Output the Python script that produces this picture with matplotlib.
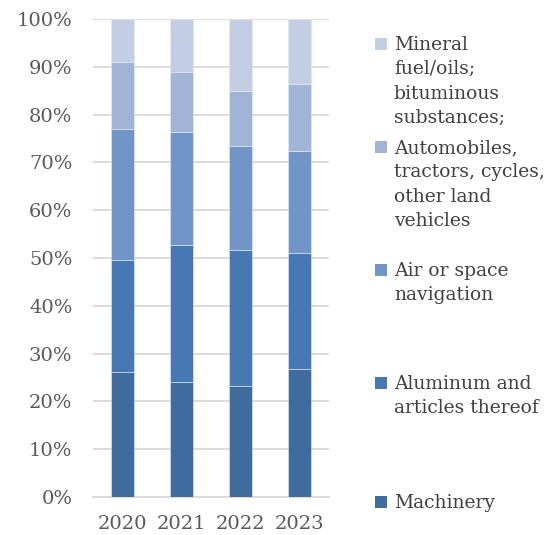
import numpy as np
import matplotlib
matplotlib.use("Agg")
import matplotlib.pyplot as plt
from matplotlib.patches import Rectangle

# -----------------------------
# Data (share of total, %)
# -----------------------------
years = ["2020", "2021", "2022", "2023"]

machinery = [26.2, 24.1, 23.2, 26.8]
aluminum = [23.4, 28.6, 28.5, 24.3]
air_space = [27.3, 23.7, 21.7, 21.3]
automobiles = [14.2, 12.6, 11.5, 13.9]
mineral_fuel = [8.9, 11.0, 15.1, 13.7]

series_names = [
    "Machinery",
    "Aluminum and\narticles thereof",
    "Air or space\nnavigation",
    "Automobiles,\ntractors, cycles,\nother land\nvehicles",
    "Mineral\nfuel/oils;\nbituminous\nsubstances;",
]
series_values = [machinery, aluminum, air_space, automobiles, mineral_fuel]
colors = ["#3F6B9F", "#4778B4", "#7195C7", "#A1B4D6", "#C3CEE4"]

# -----------------------------
# Plot
# -----------------------------
plt.rcParams["font.family"] = ["DejaVu Serif"]

W, H = 548, 535
fig = plt.figure(figsize=(W / 100, H / 100), dpi=100)
ax = fig.add_axes([0.170, 0.071, 0.430, 0.8935])

x = np.arange(len(years))
data = np.array(series_values, dtype=float)
totals = data.sum(axis=0)
shares = data / totals * 100

bottom = np.zeros(len(years))
for vals, col in zip(shares, colors):
    ax.bar(x, vals, width=0.4, bottom=bottom, color=col,
           edgecolor="#E4EAF4", linewidth=0.4, zorder=3)
    bottom += vals

ax.set_xlim(-0.5, 3.5)
ax.set_ylim(0, 100)
ax.set_yticks(np.arange(0, 101, 10))
ax.set_yticklabels([f"{v}%" for v in range(0, 101, 10)])
ax.set_xticks(x)
ax.set_xticklabels(years)

ax.grid(axis="y", color="#D9D9D9", linewidth=1.3, zorder=0)
for s in ["top", "right", "left"]:
    ax.spines[s].set_visible(False)
ax.spines["bottom"].set_color("#D9D9D9")
ax.spines["bottom"].set_linewidth(1.3)
ax.tick_params(axis="both", length=0, labelsize=14, colors="#595959")
ax.tick_params(axis="y", pad=15)
ax.tick_params(axis="x", pad=13)

# legend: Excel-style, entries spread down the right side,
# key square level with the first line of each label
first_line_y = [502, 383, 270, 147, 44]  # pixel rows from top
for name, col, py in zip(series_names, colors, first_line_y):
    fy = 1 - py / H
    fig.patches.append(Rectangle((375 / W, fy - 6 / H), 12 / W, 12 / H,
                                 transform=fig.transFigure,
                                 facecolor=col, edgecolor="none"))
    fig.text(394 / W, fy + 8 / H, name, ha="left", va="top",
             fontsize=13.5, color="#404040", linespacing=1.45)

fig.savefig("out.png", dpi=100)
